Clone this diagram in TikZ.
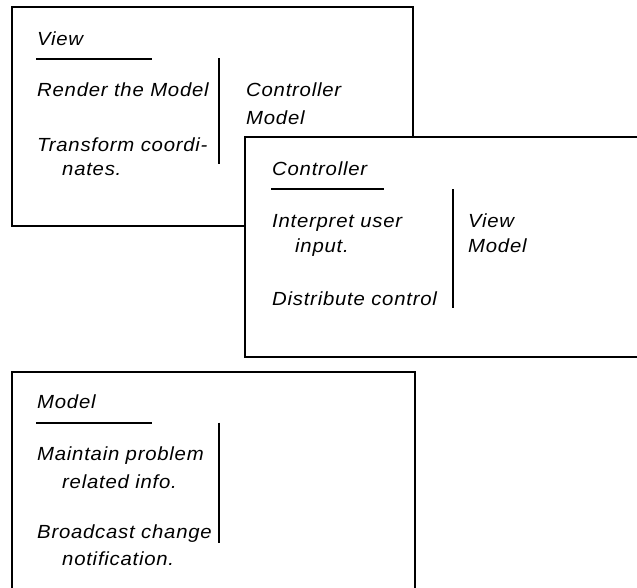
\documentclass[tikz,border=0pt]{standalone}
\usepackage{fontspec}
\newfontfamily\diafont{Liberation Sans}[LetterSpace=4,FakeStretch=1.07]
\begin{document}
\begin{tikzpicture}[x=1pt,y=-1pt,
  box/.style={draw=black, line width=2pt, fill=white},
  rule/.style={draw=black, line width=2pt},
  lbl/.style={anchor=base west, inner sep=0pt, font=\diafont\itshape\fontsize{19}{21}\selectfont}]
\useasboundingbox (0,0) rectangle (637,587);
\clip (0,0) rectangle (637,587);
% View box
\draw[box] (12,7) rectangle (413,226);
\node[lbl] (vt) at (37,45) {View};
\draw[rule] (36,59.3) -- (152,59.3);
\node[lbl] (v1) at (37,96) {Render the Model};
\node[lbl] (v2) at (37,151) {Transform coordi-};
\node[lbl] (v3) at (62,175) {nates.};
\draw[rule] (219.3,58) -- (219.3,164);
\node[lbl] (vc1) at (246,96) {Controller};
\node[lbl] (vc2) at (246,124) {Model};
% Controller box
\draw[box] (245,137) rectangle (660,357);
\node[lbl] (ct) at (272,175) {Controller};
\draw[rule] (271,189.3) -- (384,189.3);
\node[lbl] (c1) at (272,227) {Interpret user};
\node[lbl] (c2) at (295,252) {input.};
\node[lbl] (c3) at (272,305) {Distribute control};
\draw[rule] (453.3,189) -- (453.3,307.7);
\node[lbl] (cv1) at (468,227) {View};
\node[lbl] (cv2) at (468,252) {Model};
% Model box
\draw[box] (12,372) rectangle (415,600);
\node[lbl] (mt) at (37,408) {Model};
\draw[rule] (36,422.7) -- (152,422.7);
\node[lbl] (m1) at (37,460) {Maintain problem};
\node[lbl] (m2) at (62,488) {related info.};
\node[lbl] (m3) at (37,538) {Broadcast change};
\node[lbl] (m4) at (62,565) {notification.};
\draw[rule] (219.3,422.7) -- (219.3,542.7);
\end{tikzpicture}
\end{document}
